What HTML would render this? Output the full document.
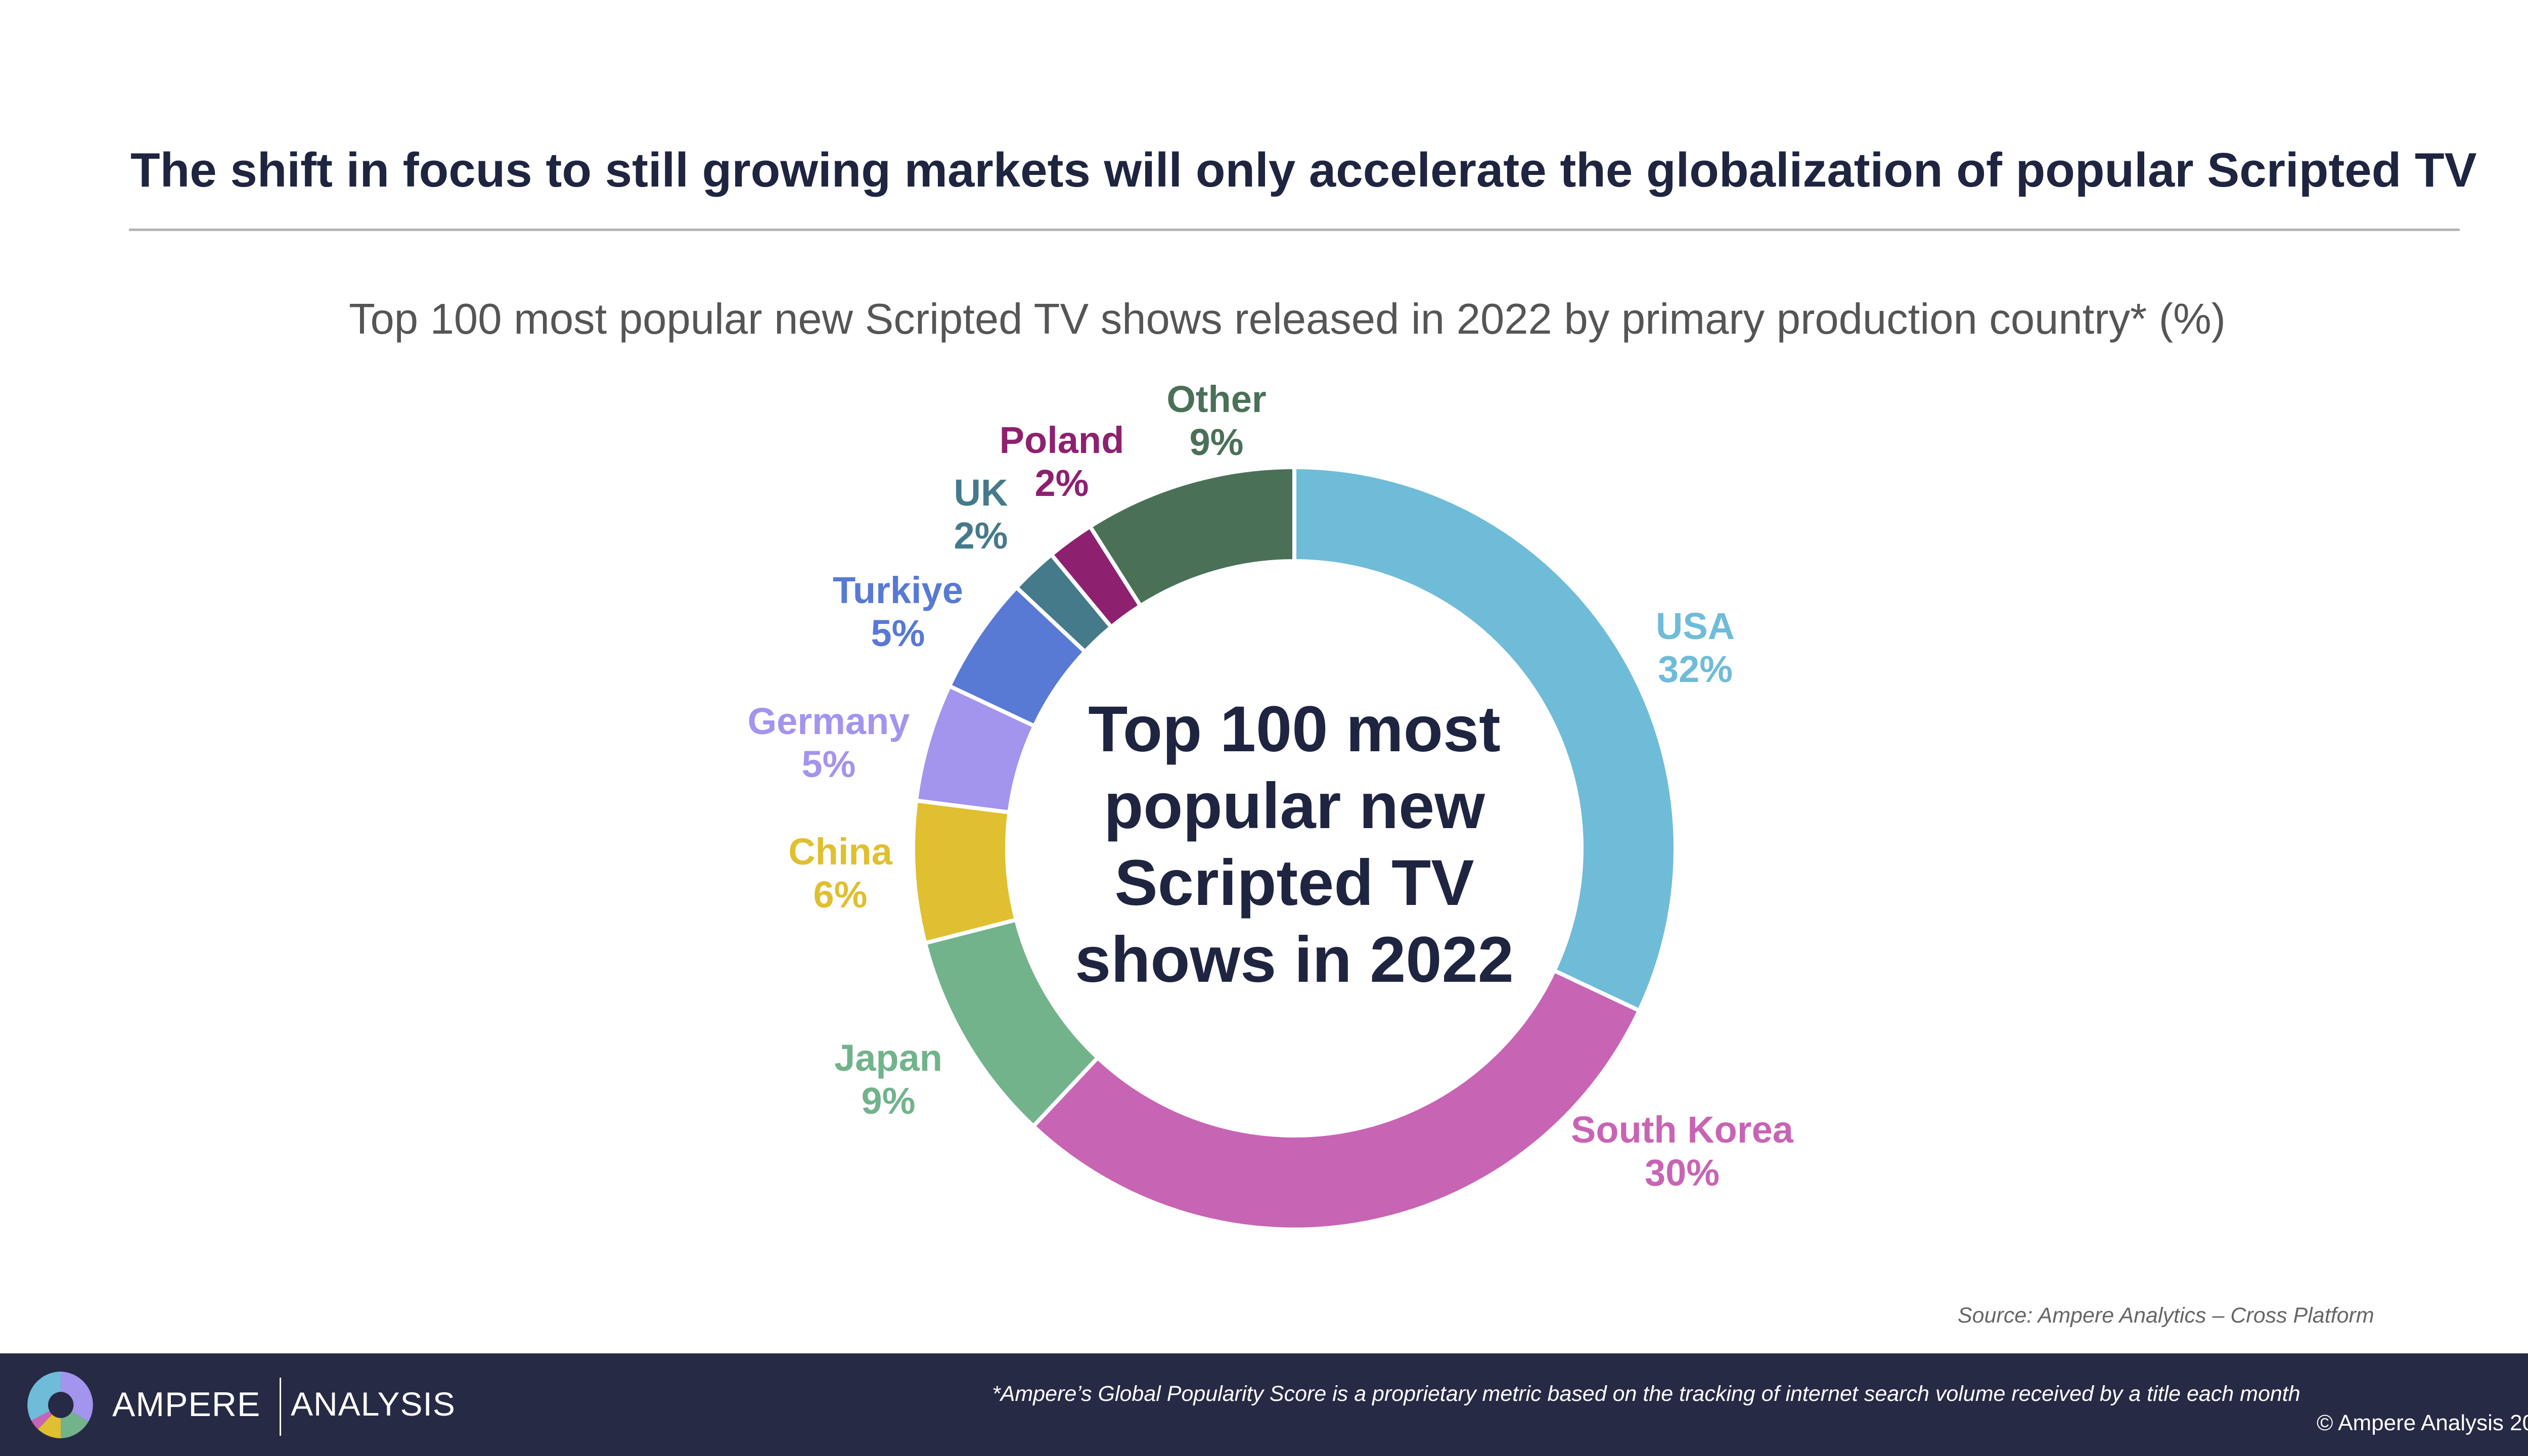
<!DOCTYPE html>
<html><head><meta charset="utf-8"><style>
html,body{margin:0;padding:0;}
body{width:5120px;height:2880px;position:relative;background:#fff;font-family:"Liberation Sans",Arial,sans-serif;overflow:hidden;}
.abs{position:absolute;}
</style></head><body>
<div class="abs" style="left:258px;top:282px;font-size:96px;font-weight:bold;color:#1f2540;white-space:nowrap;">The shift in focus to still growing markets will only accelerate the globalization of popular Scripted TV</div>
<div class="abs" style="left:255px;top:452px;width:4610px;height:5px;background:#b5b5b5;"></div>
<div class="abs" style="left:0;width:5092px;text-align:center;top:583px;font-size:85px;color:#555;white-space:nowrap;">Top 100 most popular new Scripted TV shows released in 2022 by primary production country* (%)</div>
<svg class="abs" style="left:0;top:0" width="5120" height="2880">
<g id="slices"></g>
<g id="labels" font-family="Liberation Sans, Arial, sans-serif" font-weight="bold" font-size="74" text-anchor="middle"></g>
<text x="2560" y="1486" text-anchor="middle" font-family="Liberation Sans, Arial, sans-serif" font-weight="bold" font-size="128" fill="#1f2540"><tspan x="2560">Top 100 most</tspan><tspan x="2560" dy="152">popular new</tspan><tspan x="2560" dy="152">Scripted TV</tspan><tspan x="2560" dy="152">shows in 2022</tspan></text>
</svg>
<div class="abs" style="left:3872px;top:2578px;font-size:43px;font-style:italic;color:#666;white-space:nowrap;">Source: Ampere Analytics – Cross Platform</div>
<div class="abs" style="left:0;top:2677px;width:5120px;height:203px;background:#262a44;">
<svg class="abs" style="left:50px;top:32px" width="140" height="140">
<g transform="translate(70,70)">
<path d="M0,-66 A66,66 0 0 1 55,33 L22,13 A26,26 0 0 0 0,-26Z" fill="#a394ee"/>
<path d="M55,33 A66,66 0 0 1 0,66 L0,26 A26,26 0 0 0 22,13Z" fill="#72b38c"/>
<path d="M0,66 A66,66 0 0 1 -45,48 L-17,19 A26,26 0 0 0 0,26Z" fill="#e0bf30"/>
<path d="M-45,48 A66,66 0 0 1 -58,31 L-22,12 A26,26 0 0 0 -17,19Z" fill="#c864b4"/>
<path d="M-58,31 A66,66 0 0 1 0,-66 L0,-26 A26,26 0 0 0 -22,12Z" fill="#6fbcd8"/>
</g></svg>
<div class="abs" style="left:222px;top:62px;font-size:68px;color:#fff;letter-spacing:1px;">AMPERE</div>
<div class="abs" style="left:553px;top:48px;width:3px;height:115px;background:#fff;"></div>
<div class="abs" style="left:575px;top:62px;font-size:66px;color:#fff;letter-spacing:1px;">ANALYSIS</div>
<div class="abs" style="left:1962px;top:56px;font-size:43px;font-style:italic;color:#fff;white-space:nowrap;">*Ampere’s Global Popularity Score is a proprietary metric based on the tracking of internet search volume received by a title each month</div>
<div class="abs" style="left:5010px;top:42px;font-size:44px;color:#fff;">15</div>
<div class="abs" style="right:58px;top:113px;font-size:44px;color:#fff;white-space:nowrap;">© Ampere Analysis 2023</div>
</div>
<script>
const countries=["USA","South Korea","Japan","China","Germany","Turkiye","UK","Poland","Other"];
const shares=[32,30,9,6,5,5,2,2,9];
const colors=["#6fbcd8","#c864b4","#72b38c","#e0bf30","#a394ee","#5879d4","#457a8a","#8e2070","#4a7158"];
const labelX=[3353,3327,1757,1662,1639,1776,1940,2100,2406];
const labelY=[1264,2260,2118,1710,1452,1193,1000,896,815];
const cx=2560,cy=1678,R=754,r=568;
const NS="http://www.w3.org/2000/svg";
const total=shares.reduce((a,b)=>a+b,0);
function pt(rad,frac){const a=frac*2*Math.PI;return [cx+rad*Math.sin(a),cy-rad*Math.cos(a)];}
let acc=0;
const gs=document.getElementById('slices'),gl=document.getElementById('labels');
shares.forEach((v,i)=>{
 const f0=acc/total,f1=(acc+v)/total;acc+=v;
 const large=(f1-f0)>0.5?1:0;
 const [x0,y0]=pt(R,f0),[x1,y1]=pt(R,f1),[x2,y2]=pt(r,f1),[x3,y3]=pt(r,f0);
 const p=document.createElementNS(NS,'path');
 p.setAttribute('d',`M${x0},${y0}A${R},${R} 0 ${large} 1 ${x1},${y1}L${x2},${y2}A${r},${r} 0 ${large} 0 ${x3},${y3}Z`);
 p.setAttribute('fill',colors[i]);p.setAttribute('stroke','#fff');p.setAttribute('stroke-width','8');
 
 
 gs.appendChild(p);
 const t=document.createElementNS(NS,'text');
 t.setAttribute('x',labelX[i]);t.setAttribute('y',labelY[i]);t.setAttribute('fill',colors[i]);
 
 
 const a=document.createElementNS(NS,'tspan');a.setAttribute('x',labelX[i]);a.textContent=countries[i];
 const b=document.createElementNS(NS,'tspan');b.setAttribute('x',labelX[i]);b.setAttribute('dy','85');b.textContent=v+'%';
 t.appendChild(a);t.appendChild(b);gl.appendChild(t);
});
</script>
</body></html>
